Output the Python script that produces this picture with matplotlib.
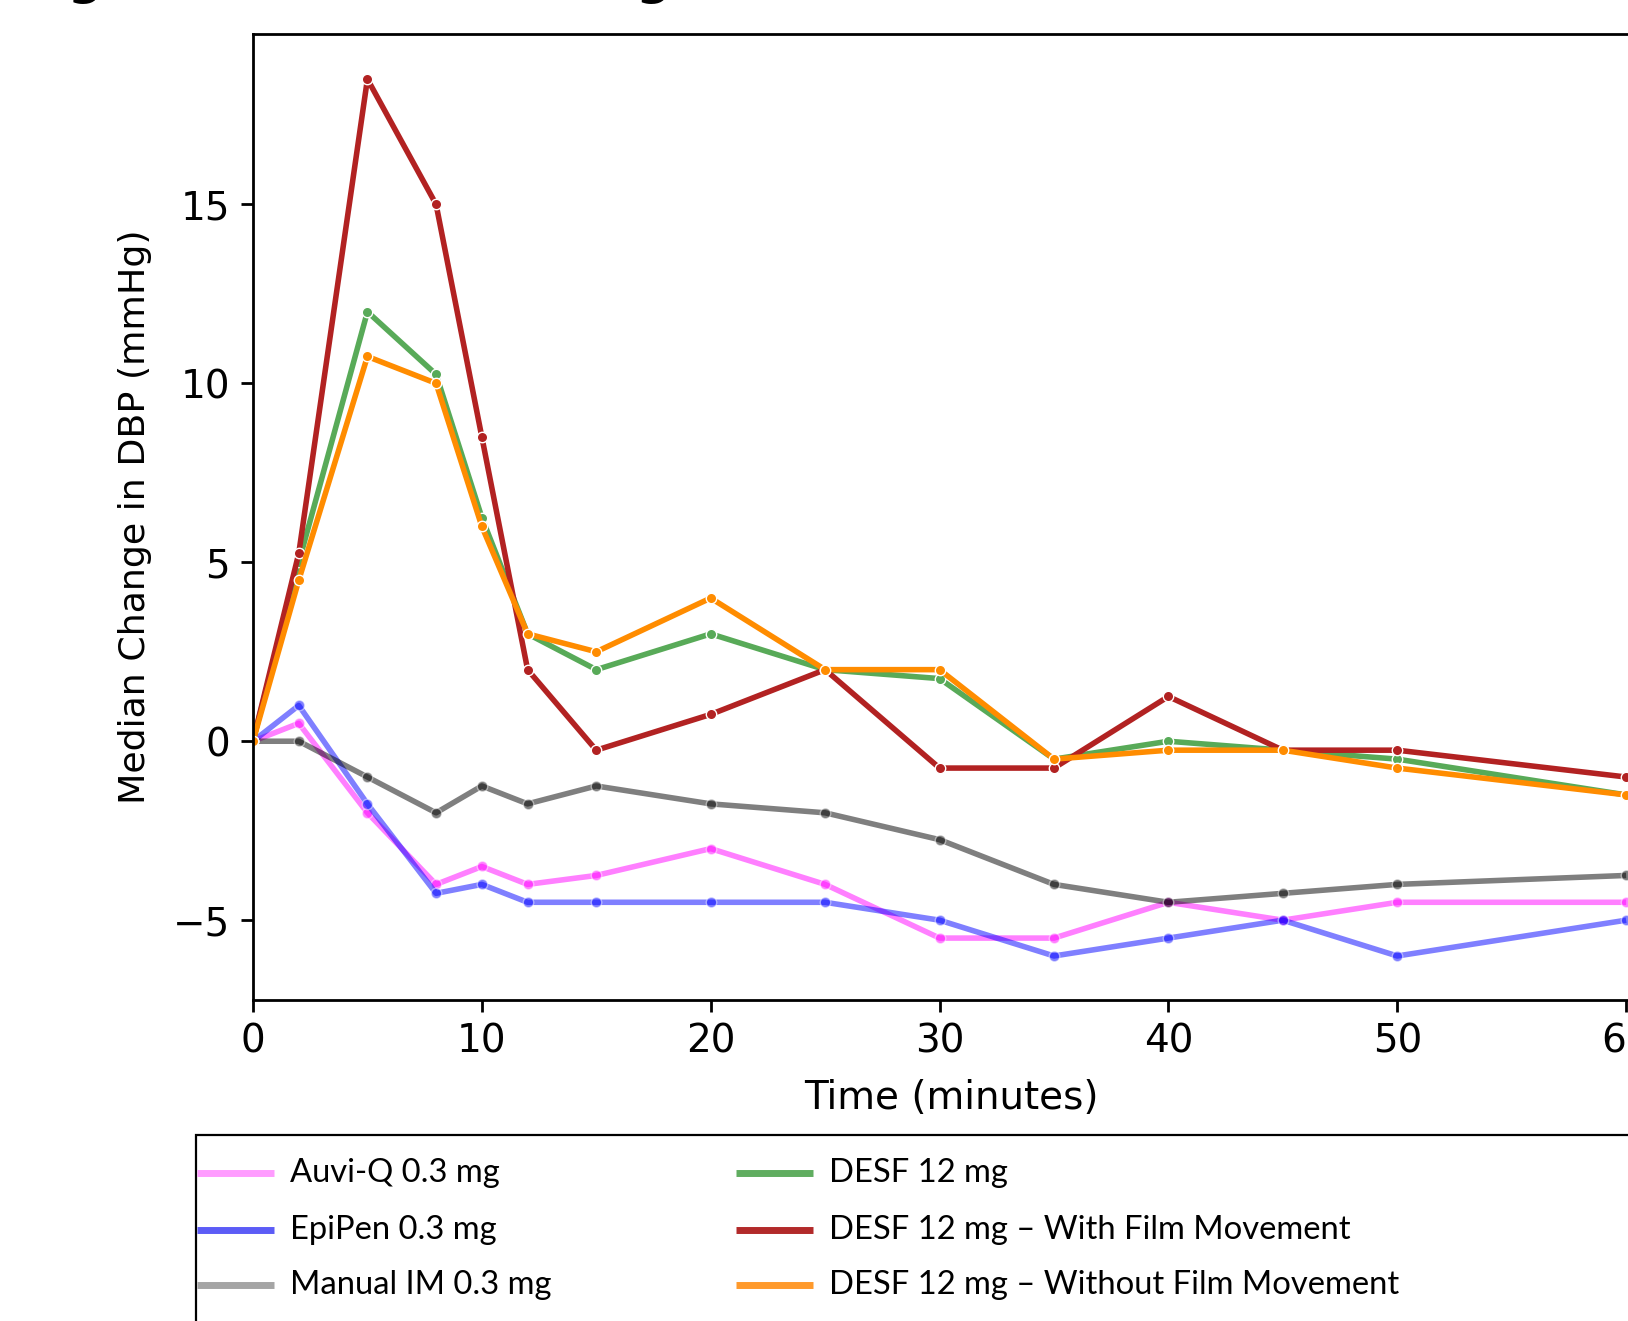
import matplotlib
matplotlib.use("Agg")
from matplotlib import pyplot as plt
from matplotlib.lines import Line2D
from matplotlib.patches import Rectangle

# time points (minutes)
time_min = [0, 2, 5, 8, 10, 12, 15, 20, 25, 30, 35, 40, 45, 50, 60]

# median change in DBP (mmHg)
auviq = [0, 0.5, -2.0, -4.0, -3.5, -4.0, -3.75, -3.0, -4.0, -5.5, -5.5, -4.5, -5.0, -4.5, -4.5]
epipen = [0, 1.0, -1.75, -4.25, -4.0, -4.5, -4.5, -4.5, -4.5, -5.0, -6.0, -5.5, -5.0, -6.0, -5.0]
manual_im = [0, 0, -1.0, -2.0, -1.25, -1.75, -1.25, -1.75, -2.0, -2.75, -4.0, -4.5, -4.25, -4.0, -3.75]
desf = [0, 5.0, 12.0, 10.25, 6.25, 3.0, 2.0, 3.0, 2.0, 1.75, -0.5, 0, -0.25, -0.5, -1.5]
desf_with = [0, 5.25, 18.5, 15.0, 8.5, 2.0, -0.25, 0.75, 2.0, -0.75, -0.75, 1.25, -0.25, -0.25, -1.0]
desf_without = [0, 4.5, 10.75, 10.0, 6.0, 3.0, 2.5, 4.0, 2.0, 2.0, -0.5, -0.25, -0.25, -0.75, -1.5]

labels = ["Auvi-Q 0.3 mg", "EpiPen 0.3 mg", "Manual IM 0.3 mg",
          "DESF 12 mg", "DESF 12 mg \u2013 With Film Movement",
          "DESF 12 mg \u2013 Without Film Movement"]
series = [auviq, epipen, manual_im, desf, desf_with, desf_without]

# (line colour, alpha) in the plot
line_styles = [("#ff00ff", 0.5), ("#0000ff", 0.5), ("#000000", 0.5),
               ("#58aa58", 1.0), ("#b22222", 1.0), ("#ff8c00", 1.0)]
# colours used in the legend picture
legend_colors = ["#ff9cff", "#5c5cf6", "#a5a5a5", "#60ad60", "#b22a2a", "#ff9a2c"]

W, H = 1628, 1321
fig = plt.figure(figsize=(W / 100, H / 100), dpi=100)

# title sits mostly above the visible area
fig.text(18 / W, 1 + 5.5 / H, "Figure 4: Median Change in Diastolic Blood Pressure",
         fontsize=35, fontweight="bold", va="baseline", ha="left")

ax_left, ax_right, ax_top, ax_bottom = 253, 1649, 34, 1000
ax = fig.add_axes([ax_left / W, 1 - ax_bottom / H,
                   (ax_right - ax_left) / W, (ax_bottom - ax_top) / H])

for y, (c, a) in zip(series, line_styles):
    ax.plot(time_min, y, color=c, alpha=a, lw=4.0, marker="o", ms=7.5,
            mec="white", mew=1.0, solid_capstyle="butt")

ax.set_xlim(0, 61)
ax.set_ylim(-7.23, 19.76)
ax.set_xticks([0, 10, 20, 30, 40, 50, 60])
ax.set_yticks([-5, 0, 5, 10, 15])
ax.tick_params(labelsize=28, length=8.5, width=2.0, pad=8)
for s in ax.spines.values():
    s.set_linewidth(2.0)
ax.set_xlabel("Time (minutes)", fontsize=28, labelpad=13)
ax.set_ylabel("Median Change in DBP (mmHg)", fontsize=26.2, labelpad=15)

# legend box (cropped on the right and bottom)
box_left, box_top = 196, 1135
fig.patches.append(Rectangle((box_left / W, -0.1), (W + 100 - box_left) / W,
                             1 - box_top / H + 0.1, transform=fig.transFigure,
                             fill=False, edgecolor="black", linewidth=1.6))
col_x = [196, 735]
row_y = [1173, 1230, 1285]
for i, (lab, c) in enumerate(zip(labels, legend_colors)):
    x0 = col_x[i // 3]
    yy = 1 - row_y[i % 3] / H
    fig.lines.append(Line2D([(x0 + 1) / W, (x0 + 78) / W], [yy, yy],
                            transform=fig.transFigure, color=c, lw=5,
                            solid_capstyle="butt"))
    fig.text((x0 + 94) / W, yy, lab, fontsize=23.6, family=["Lato", "DejaVu Sans"],
             va="center", ha="left")

fig.savefig("out.png", dpi=100)
